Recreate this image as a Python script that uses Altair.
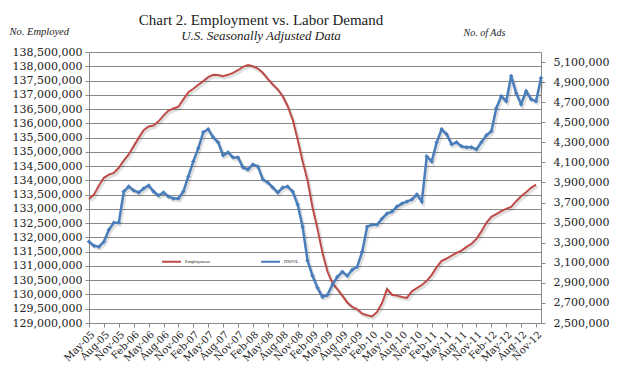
import altair as alt
import pandas as pd

# Monthly categories May-05 .. Dec-12
months = list(pd.date_range("2005-05-01", periods=92, freq="MS").strftime("%b-%y"))
tick_months = months[::3]

# Employment (millions), May-05 .. Nov-12
employment_m = [
    133.35, 133.50, 133.82, 134.09, 134.20, 134.26, 134.44, 134.69, 134.91, 135.20,
    135.49, 135.76, 135.89, 135.92, 136.07, 136.27, 136.45, 136.52, 136.58, 136.84,
    137.09, 137.21, 137.35, 137.48, 137.62, 137.70, 137.69, 137.65, 137.70, 137.77,
    137.86, 137.98, 138.04, 138.00, 137.92, 137.77, 137.56, 137.36, 137.19, 136.95,
    136.60, 136.13, 135.43, 134.67, 134.00, 133.05, 132.30, 131.46, 130.81, 130.40,
    130.19, 129.96, 129.72, 129.56, 129.48, 129.33, 129.27, 129.23, 129.39, 129.70,
    130.19, 129.99, 129.96, 129.91, 129.88, 130.11, 130.22, 130.33, 130.48, 130.69,
    130.96, 131.18, 131.26, 131.36, 131.46, 131.54, 131.67, 131.77, 131.95, 132.21,
    132.51, 132.72, 132.82, 132.92, 133.00, 133.07, 133.27, 133.44, 133.58, 133.74,
    133.85,
]

# HWOL online ads (millions), May-05 .. Dec-12
hwol_m = [
    3.31, 3.27, 3.26, 3.31, 3.43, 3.50, 3.50, 3.81, 3.86, 3.82,
    3.80, 3.84, 3.87, 3.81, 3.77, 3.80, 3.76, 3.74, 3.74, 3.81,
    3.96, 4.11, 4.24, 4.40, 4.43, 4.35, 4.30, 4.17, 4.20, 4.15,
    4.15, 4.05, 4.03, 4.08, 4.06, 3.93, 3.90, 3.85, 3.80, 3.85,
    3.86, 3.81, 3.68, 3.46, 3.12, 2.97, 2.85, 2.76, 2.78, 2.88,
    2.96, 3.01, 2.97, 3.03, 3.06, 3.21, 3.46, 3.48, 3.48, 3.54,
    3.59, 3.61, 3.66, 3.69, 3.71, 3.73, 3.78, 3.71, 4.16, 4.11,
    4.30, 4.43, 4.38, 4.28, 4.30, 4.26, 4.25, 4.25, 4.23, 4.30,
    4.37, 4.41, 4.64, 4.76, 4.71, 4.96, 4.79, 4.68, 4.81, 4.73,
    4.71, 4.94,
]

series_names = ["Employment", "HWOL"]
RED = "#BE4B48"
BLUE = "#4A7EBB"
GRID = "#8a8a8a"
TXT = "#222222"

emp_df = pd.DataFrame({
    "month": months[: len(employment_m)],
    "value": [v * 1e6 for v in employment_m],
    "series": series_names[0],
})
ads_df = pd.DataFrame({
    "month": months[: len(hwol_m)],
    "value": [v * 1e6 for v in hwol_m],
    "series": series_names[1],
})

x_enc = alt.X(
    "month:O",
    scale=alt.Scale(type="point", domain=months, padding=0),
    axis=alt.Axis(
        values=tick_months, labelAngle=-45, title=None, grid=False,
        labelFont="DejaVu Serif", labelFontSize=10, labelColor=TXT,
        tickSize=4, tickColor=GRID, domainColor=GRID, labelPadding=2,
    ),
)

color_enc = alt.Color(
    "series:N",
    scale=alt.Scale(domain=series_names, range=[RED, BLUE]),
    legend=alt.Legend(
        title=None, orient="none", legendX=72, legendY=199, direction="horizontal",
        symbolType="stroke", symbolSize=360, symbolStrokeWidth=2,
        labelFont="Liberation Serif", labelFontSize=4.8, labelColor=TXT,
        columnPadding=47, labelOffset=3,
    ),
)

left_y = alt.Y(
    "value:Q",
    scale=alt.Scale(domain=[129_000_000, 138_500_000], nice=False, zero=False),
    axis=alt.Axis(
        values=list(range(129_000_000, 138_500_001, 500_000)), format=",.0f",
        title="No. Employed", titleAngle=0, titleX=-80, titleY=-18,
        titleAlign="left", titleBaseline="alphabetic",
        titleFont="Liberation Serif", titleFontStyle="italic", titleFontWeight="normal",
        titleFontSize=10.5, titleColor=TXT,
        grid=True, gridColor=GRID, tickSize=4, tickColor=GRID, domainColor=GRID,
        labelFont="DejaVu Serif", labelFontSize=11, labelColor=TXT, labelPadding=3,
    ),
)

right_y = alt.Y(
    "value:Q",
    scale=alt.Scale(domain=[2_500_000, 5_200_000], nice=False, zero=False),
    axis=alt.Axis(
        orient="right",
        values=list(range(2_500_000, 5_100_001, 200_000)), format=",.0f",
        title="No. of Ads", titleAngle=0, titleX=-78, titleY=-17,
        titleAlign="left", titleBaseline="alphabetic",
        titleFont="Liberation Serif", titleFontStyle="italic", titleFontWeight="normal",
        titleFontSize=10, titleColor=TXT,
        grid=False, tickSize=4, tickColor=GRID, domainColor=GRID,
        labelFont="DejaVu Serif", labelFontSize=11, labelColor=TXT, labelPadding=8,
    ),
)

emp_shadow = alt.Chart(emp_df).mark_line(
    color="#000000", opacity=0.12, strokeWidth=3, xOffset=1.5, yOffset=2
).encode(x=x_enc, y=left_y)
emp_line = alt.Chart(emp_df).mark_line(strokeWidth=2).encode(
    x=x_enc, y=left_y, color=color_enc
)
left = alt.layer(emp_shadow, emp_line)

ads_shadow = alt.Chart(ads_df).mark_line(
    color="#000000", opacity=0.12, strokeWidth=3.5, xOffset=1.5, yOffset=2
).encode(x=x_enc, y=right_y)
ads_line = alt.Chart(ads_df).mark_line(strokeWidth=2.5).encode(
    x=x_enc, y=right_y, color=color_enc
)
ads_pts = alt.Chart(ads_df).mark_point(
    shape="diamond", size=20, filled=True, color=BLUE, opacity=1
).encode(x=x_enc, y=right_y)
right = alt.layer(ads_shadow, ads_line, ads_pts)

chart = (
    alt.layer(left, right)
    .resolve_scale(y="independent")
    .properties(
        width=452,
        height=271,
        autosize=alt.AutoSizeParams(type="none"),
        padding={"left": 81, "top": 44, "right": 75, "bottom": 41},
        title=alt.TitleParams(
            text="Chart 2. Employment vs. Labor Demand",
            subtitle="U.S. Seasonally Adjusted Data",
            font="Liberation Serif", fontSize=15, fontWeight="normal", color=TXT,
            subtitleFont="Liberation Serif", subtitleFontSize=13,
            subtitleFontStyle="italic", subtitleColor=TXT, subtitlePadding=2,
            anchor="middle", frame="group", dx=-54, dy=23, offset=6,
        ),
    )
    .configure_view(stroke=GRID)
    .configure(background="white")
)

chart.save("out.html", embed_options={"renderer": "svg", "actions": False})
